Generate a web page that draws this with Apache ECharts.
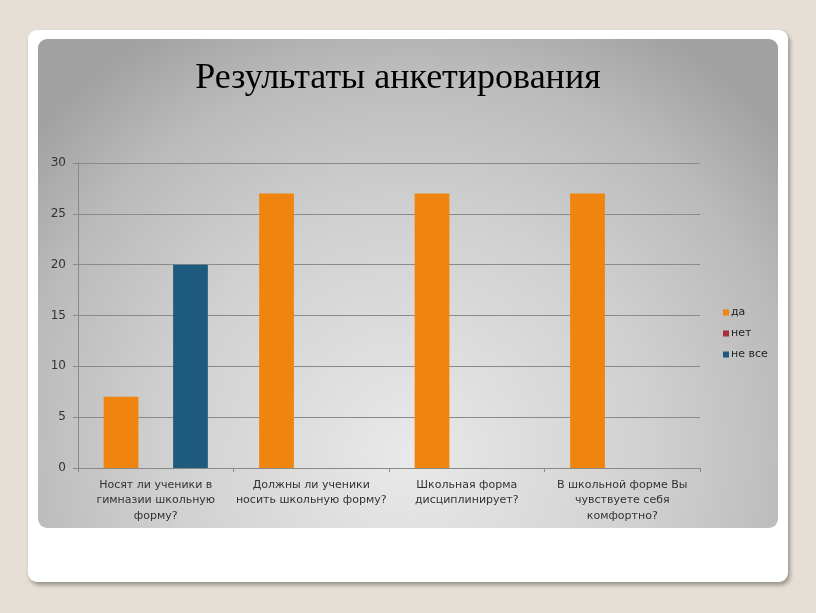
<!DOCTYPE html>
<html><head><meta charset="utf-8">
<script src="https://cdn.jsdelivr.net/npm/echarts@6/dist/echarts.min.js"></script>
<style>html,body{margin:0;padding:0;background:#e5dfd5;}#c{width:816px;height:613px;}</style>
</head><body><div id="c"></div>
<script>
const categories = [
  'Носят ли ученики в\nгимназии школьную\nформу?',
  'Должны ли ученики\nносить школьную форму?',
  'Школьная форма\nдисциплинирует?',
  'В школьной форме Вы\nчувствуете себя\nкомфортно?'
];
const seriesNames = ['да', 'нет', 'не все'];
const daValues = [7, 27, 27, 27];
const netValues = [0, 0, 0, 0];
const neVseValues = [20, 0, 0, 0];
const yTicks = [0, 5, 10, 15, 20, 25, 30];
const colors = ['#EF840E', '#A5303B', '#1D5A7D'];

const chart = echarts.init(document.getElementById('c'), null, {renderer: 'canvas'});
const font = 'Verdana, "DejaVu Sans", sans-serif';
chart.setOption({
  animation: false,
  backgroundColor: '#e5dfd5',
  graphic: [
    {type: 'rect', z: -10, shape: {x: 28, y: 30, width: 760, height: 552, r: 9},
     style: {fill: '#ffffff', shadowBlur: 4, shadowOffsetX: 2, shadowOffsetY: 3, shadowColor: 'rgba(0,0,0,0.35)'}},
    {type: 'rect', z: -9, shape: {x: 38, y: 39, width: 740, height: 489, r: 9},
     style: {fill: new echarts.graphic.RadialGradient(0.5, 0.85, 1.0, [
       {offset: 0, color: '#e9e9e9'}, {offset: 0.5, color: '#d0d0d0'}, {offset: 0.8, color: '#bababa'}, {offset: 1, color: '#a2a2a2'}])}}
  ],
  title: {
    text: 'Результаты анкетирования', left: 393, top: 56, textAlign: 'center',
    textStyle: {fontFamily: '"Liberation Serif", "Times New Roman", serif', fontSize: 36, fontWeight: 'normal', color: '#000'}
  },
  legend: {
    orient: 'vertical', left: 718, top: 302, itemWidth: 6, itemHeight: 6, itemGap: 10,
    icon: 'rect', data: seriesNames,
    textStyle: {fontFamily: font, fontSize: 11, color: '#222', padding: [0, 0, 0, -3]}
  },
  grid: {left: 78, right: 116, top: 163, bottom: 145, containLabel: false},
  xAxis: {
    type: 'category', data: categories,
    axisLine: {lineStyle: {color: '#8a8a8a'}},
    axisTick: {show: true, length: 4, lineStyle: {color: '#8a8a8a'}},
    axisLabel: {fontFamily: font, fontSize: 11, color: '#333', lineHeight: 15.5, margin: 9, interval: 0}
  },
  yAxis: {
    type: 'value', min: 0, max: 30, interval: 5,
    axisLine: {show: true, lineStyle: {color: '#8a8a8a'}},
    axisTick: {show: true, length: 5, lineStyle: {color: '#8a8a8a'}},
    splitLine: {lineStyle: {color: '#8a8a8a'}},
    axisLabel: {fontFamily: font, fontSize: 12, color: '#333', margin: 12,
      formatter: v => yTicks.includes(v) ? String(v) : ''}
  },
  series: [
    {name: seriesNames[0], type: 'bar', data: daValues, itemStyle: {color: colors[0]}, barGap: '0%', barCategoryGap: '33%'},
    {name: seriesNames[1], type: 'bar', data: netValues, itemStyle: {color: colors[1]}},
    {name: seriesNames[2], type: 'bar', data: neVseValues, itemStyle: {color: colors[2]}}
  ]
});
</script></body></html>
